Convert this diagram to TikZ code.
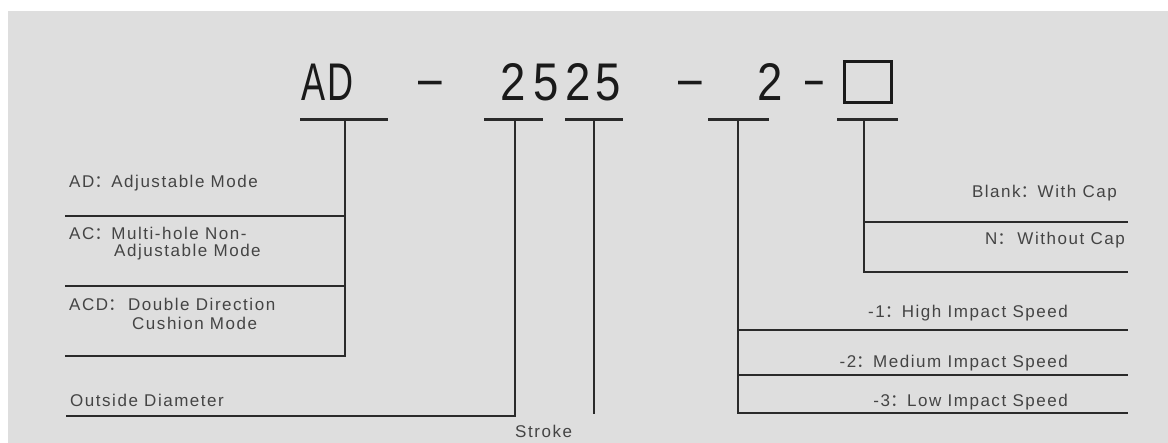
\documentclass[tikz,border=0pt]{standalone}
\usepackage{fontspec}
\setmainfont{Liberation Sans}
\newfontfamily\lblfont[LetterSpace=9]{Liberation Sans}
\newfontfamily\cjk{Noto Sans CJK SC}
\newfontfamily\titleL[FakeStretch=0.68]{Liberation Sans}
\newfontfamily\titleD[FakeStretch=0.86]{Liberation Sans}
\newfontfamily\titleH[FakeStretch=0.8]{Liberation Sans}
\newfontfamily\titleS[FakeStretch=0.6]{Liberation Sans}
\definecolor{bg}{RGB}{222,222,222}
\definecolor{ln}{RGB}{42,42,42}
\definecolor{txt}{RGB}{68,68,68}
\definecolor{ttl}{RGB}{26,26,26}
\begin{document}
\begin{tikzpicture}[x=1pt,y=-1pt,
  lbl/.style={inner sep=0pt, text=txt, font=\lblfont\fontsize{17}{20}\selectfont},
  lblL/.style={lbl, anchor=base west},
  lblR/.style={lbl, anchor=base east},
  ttlL/.style={inner sep=0pt, anchor=base, text=ttl, font=\titleL\fontsize{53}{60}\selectfont},
  ttlD/.style={inner sep=0pt, anchor=base, text=ttl, font=\titleD\fontsize{53}{60}\selectfont},
  ttlH/.style={inner sep=0pt, anchor=base, text=ttl, font=\titleH\fontsize{53}{60}\selectfont},
  ttlS/.style={inner sep=0pt, anchor=base, text=ttl, font=\titleS\fontsize{53}{60}\selectfont},
  conn/.style={draw=ln, line width=2.6pt, line cap=rect},
  bar/.style={draw=ln, line width=2.8pt}]
\useasboundingbox (0,0) rectangle (1168,443);
\fill[white] (0,0) rectangle (1168,443);
\fill[bg] (8,11) rectangle (1168,443);

% title
\node[ttlL] (tA) at (314,101) {A};
\node[ttlL] (tD) at (341,101) {D};
\node[ttlH] (d1) at (430,97) {–};
\node[ttlD] (n1) at (513,101) {2};
\node[ttlD] (n2) at (546,101) {5};
\node[ttlD] (n3) at (578,101) {2};
\node[ttlD] (n4) at (608,101) {5};
\node[ttlH] (d2) at (690,97) {–};
\node[ttlD] (n5) at (770,101) {2};
\node[ttlS] (d3) at (814,97) {–};
\node[draw=ttl, line width=2.8pt, minimum width=47pt, minimum height=41pt, inner sep=0pt] (box) at (868,82) {};

% underline coordinates
\coordinate (u1a) at (300,119.5); \coordinate (u1b) at (388,119.5); \coordinate (s1) at (345,119.5);
\coordinate (u2a) at (484,119.5); \coordinate (u2b) at (543,119.5); \coordinate (s2) at (515,119.5);
\coordinate (u3a) at (565,119.5); \coordinate (u3b) at (623,119.5); \coordinate (s3) at (594,119.5);
\coordinate (u4a) at (708,119.5); \coordinate (u4b) at (769,119.5); \coordinate (s4) at (738,119.5);
\coordinate (u5a) at (837,119.5); \coordinate (u5b) at (898,119.5); \coordinate (s5) at (864,119.5);
\draw[bar] (u1a) -- (u1b);
\draw[bar] (u2a) -- (u2b);
\draw[bar] (u3a) -- (u3b);
\draw[bar] (u4a) -- (u4b);
\draw[bar] (u5a) -- (u5b);

% left branch ends
\coordinate (l1a) at (66,216); \coordinate (l1b) at (345,216);
\coordinate (l2a) at (66,286); \coordinate (l2b) at (345,286);
\coordinate (l3a) at (66,356); \coordinate (l3b) at (345,356);
\coordinate (l4a) at (67,416); \coordinate (l4b) at (515,416);
\coordinate (s3e) at (594,413);
% right branch ends
\coordinate (r1a) at (864,222); \coordinate (r1b) at (1127,222);
\coordinate (r2a) at (864,272); \coordinate (r2b) at (1127,272);
\coordinate (r3a) at (738,330); \coordinate (r3b) at (1127,330);
\coordinate (r4a) at (738,375); \coordinate (r4b) at (1127,375);
\coordinate (r5a) at (738,413); \coordinate (r5b) at (1127,413);

\draw[conn] (s1) -- (l3b) -- (l3a);
\draw[conn] (l1b) -- (l1a);
\draw[conn] (l2b) -- (l2a);
\draw[conn] (s2) -- (l4b) -- (l4a);
\draw[conn] (s3) -- (s3e);
\draw[conn] (s4) -- (r5a) -- (r5b);
\draw[conn] (r3a) -- (r3b);
\draw[conn] (r4a) -- (r4b);
\draw[conn] (s5) -- (r2a) -- (r2b);
\draw[conn] (r1a) -- (r1b);

% left labels
\node[lblL] (ad) at (69,188) {AD{\cjk ：}Adjustable Mode};
\node[lblL] (ac1) at (69,240) {AC{\cjk ：}Multi-hole Non-};
\node[lblL] (ac2) at (114,257) {Adjustable Mode};
\node[lblL] (acd1) at (69,311) {ACD{\cjk ：}\hspace{3pt}Double Direction};
\node[lblL] (acd2) at (132,330) {Cushion Mode};
\node[lblL] (od) at (70,407) {Outside Diameter};
\node[lblL] (st) at (515,438) {Stroke};

% right labels
\node[lblR] (bl) at (1117,198) {Blank{\cjk ：}With Cap};
\node[lblR] (nn) at (1125,245) {N{\cjk ：}\hspace{3pt}Without Cap};
\node[lblR] (m1) at (1068,318) {-1{\cjk ：}High Impact Speed};
\node[lblR] (m2) at (1068,368) {-2{\cjk ：}Medium Impact Speed};
\node[lblR] (m3) at (1068,407) {-3{\cjk ：}Low Impact Speed};
\end{tikzpicture}
\end{document}
